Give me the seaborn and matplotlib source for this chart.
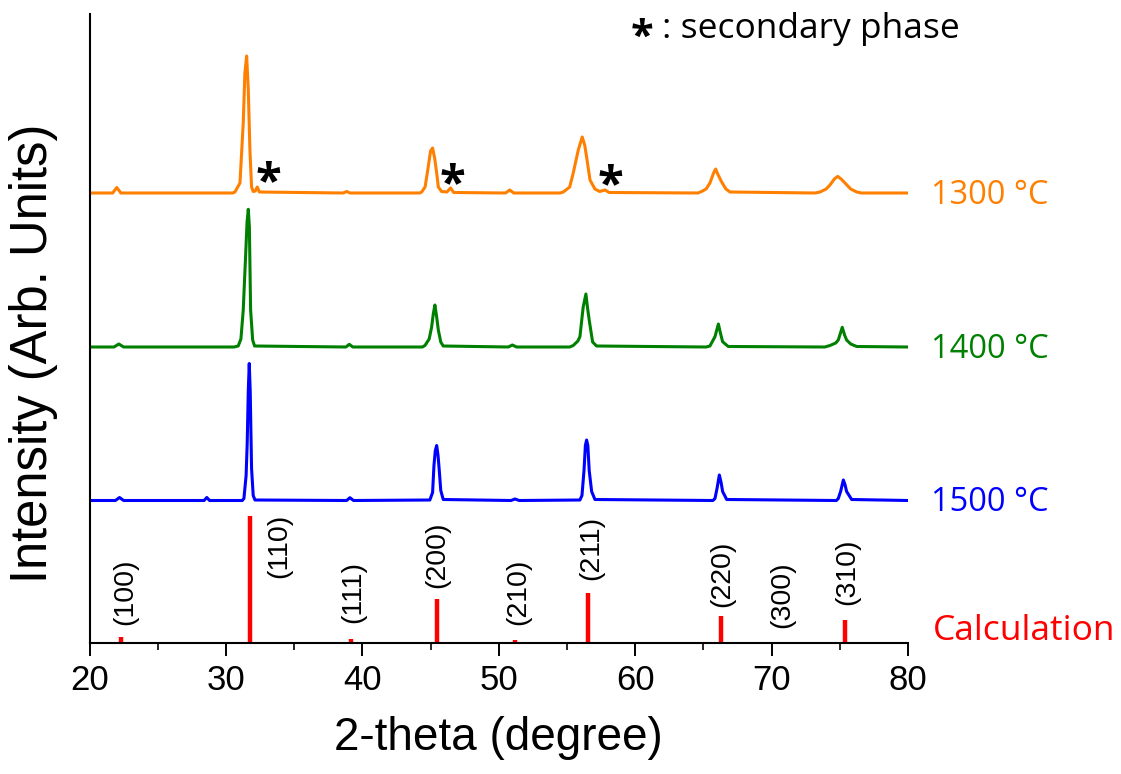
import numpy as np
import pandas as pd
import matplotlib
matplotlib.use("Agg")
import matplotlib.pyplot as plt
from matplotlib.ticker import MultipleLocator
import seaborn as sns

# XRD patterns (2-theta in degree, intensity above each baseline, arb. units)
x_1300 = [20.0, 21.7, 22.0, 22.3, 30.5, 30.66, 31.03, 31.27, 31.39, 31.52, 31.64, 31.76, 31.88, 32.0,
          32.15, 32.3, 32.45, 38.6, 38.85, 39.1, 44.2, 44.35, 44.6, 44.83, 45.0, 45.15, 45.3, 45.45,
          45.57, 45.81, 46.2, 46.47, 46.7, 50.5, 50.8, 51.1, 54.5, 54.73, 55.2, 55.46, 55.83, 56.12,
          56.3, 56.44, 56.69, 57.05, 57.4, 57.79, 58.1, 64.6, 64.87, 65.2, 65.48, 65.75, 65.9, 66.05,
          66.34, 66.65, 66.95, 73.2, 73.55, 74.0, 74.28, 74.6, 74.85, 75.1, 75.38, 75.8, 76.24, 76.6, 80.0]
y_1300 = [0, 0, 5.5, 0, 0, 1, 10, 70, 120, 137, 103, 43, 6, 1.5,
          2, 6, 1, 0, 1.5, 0, 0, 1, 6, 26, 42, 45, 35, 20,
          6, 1.5, 1, 5, 0.5, 0, 3, 0, 0, 1, 6, 20, 43, 56,
          48, 36, 13, 4, 1.5, 3, 0.5, 0, 1.5, 4, 10, 20, 24, 19,
          11, 4, 1, 0, 1, 4, 8, 14, 16.6, 14, 10, 4, 1, 0, 0]

x_1400 = [20.0, 21.8, 22.15, 22.5, 30.6, 30.9, 31.1, 31.27, 31.44, 31.55, 31.64, 31.72, 31.81, 31.96,
          32.1, 38.8, 39.04, 39.3, 44.4, 44.59, 44.9, 45.08, 45.2, 45.32, 45.45, 45.57, 45.75, 45.93,
          50.7, 51.0, 51.3, 55.2, 55.46, 55.8, 55.95, 56.19, 56.39, 56.5, 56.63, 56.88, 57.17,
          65.2, 65.48, 65.85, 66.1, 66.25, 66.41, 66.82, 73.9, 74.28, 74.7, 74.89, 75.18, 75.35,
          75.5, 75.8, 76.24, 80.0]
y_1400 = [0, 0, 3, 0, 0, 1, 8, 37, 90, 125, 137.7, 120, 37, 7,
          1, 0, 2.7, 0, 0, 1.5, 8, 20, 33, 42, 30, 17, 5, 1,
          0, 2, 0, 0, 1.5, 6, 10.3, 40, 53, 40, 27, 5, 1,
          0, 1, 10.3, 23, 14, 5.3, 0.5, 0, 1.5, 4, 7, 19.7, 12,
          7, 3, 0.5, 0]

x_1500 = [20.0, 21.9, 22.2, 22.5, 28.4, 28.6, 28.8, 31.2, 31.32, 31.48, 31.56, 31.64, 31.71, 31.78,
          31.88, 32.0, 32.13, 38.85, 39.09, 39.35, 44.95, 45.15, 45.25, 45.35, 45.45, 45.55, 45.64,
          45.75, 45.93, 50.9, 51.19, 51.5, 55.95, 56.1, 56.25, 56.35, 56.44, 56.53, 56.63, 56.81,
          57.05, 65.7, 65.85, 66.0, 66.17, 66.3, 66.41, 66.71, 74.75, 74.89, 75.06, 75.26, 75.38,
          75.5, 75.87, 80.0]
y_1500 = [0, 0, 3, 0, 0, 3, 0, 0, 2, 25, 57, 110, 137, 110,
          32, 5, 0.5, 0, 2.8, 0, 0.5, 8, 35, 50, 55, 45, 30,
          10, 1, 0, 1.5, 0, 0.5, 5, 30, 55, 60.5, 55, 30, 9,
          1, 0, 2, 12, 25.5, 18, 9, 1, 0, 2, 9, 20.5, 16,
          9, 1, 0]

# calculated reflections
hkl = ["(100)", "(110)", "(111)", "(200)", "(210)", "(211)", "(220)", "(300)", "(310)"]
calc_pos = [22.28, 31.76, 39.16, 45.47, 51.2, 56.53, 66.27, 70.9, 75.35]
calc_int = [6, 127, 4, 44, 3, 50, 27, 1.5, 23]
hkl_x = [22.6, 33.9, 39.3, 45.47, 51.4, 56.8, 66.4, 70.8, 75.57]
hkl_y = [18, 65, 20, 55, 18, 63, 36, 15, 38]

# secondary phase marks on the 1300 C pattern
star_x = [33.1, 46.6, 58.15]
star_y = [18, 16, 15]

temps = ["1300 °C", "1400 °C", "1500 °C"]
offsets = [450, 296, 142.5]
colors = ["#FF7F00", "#008000", "#0000FF"]

sns.set_theme(style="ticks")
arial = ["Liberation Sans", "DejaVu Sans"]
side_font = ["Open Sans", "DejaVu Sans"]
plt.rcParams["font.family"] = arial
plt.rcParams["text.color"] = "black"
plt.rcParams["axes.labelcolor"] = "black"

fig = plt.figure(figsize=(11.21, 7.74), dpi=100)
ax = fig.add_axes([89.5 / 1121, 131 / 774, (908 - 89.5) / 1121, (643 - 14) / 774])

frames = []
for t, xs, ys, off in zip(temps, [x_1300, x_1400, x_1500], [y_1300, y_1400, y_1500], offsets):
    frames.append(pd.DataFrame({"theta": xs, "I": np.array(ys) + off, "T": t}))
df = pd.concat(frames, ignore_index=True)
sns.lineplot(data=df, x="theta", y="I", hue="T", palette=colors, lw=2.2,
             legend=False, ax=ax, sort=False, estimator=None)

ax.vlines(calc_pos, 0, calc_int, colors="#FF0000", lw=3.2)
for lab, lx, ly in zip(hkl, hkl_x, hkl_y):
    ax.text(lx, ly, lab, rotation=90, ha="center", va="bottom", fontsize=20.5,
            color="black", family=arial)

for sx, sy in zip(star_x, star_y):
    ax.text(sx, offsets[0] + sy - 9, "*", ha="center", va="center", fontsize=34,
            family=side_font, fontweight="bold", color="black")

for t, off, c in zip(temps, offsets, colors):
    ax.text(81.65, off - 2, t, ha="left", va="center", fontsize=23.5, color=c,
            family=side_font, clip_on=False)
ax.text(81.8, 12, "Calculation", ha="left", va="center", fontsize=25.5, color="#FF0000",
        family=side_font, clip_on=False)
fig.text(631 / 1121, 1 - 38 / 774, "*", ha="left", va="center",
         fontsize=30, color="black", family=side_font, fontweight="bold")
fig.text(662 / 1121, 1 - 29 / 774, ": secondary phase", ha="left", va="center",
         fontsize=25.5, color="black", family=side_font)

ax.set_xlim(20, 80)
ax.set_ylim(0, 629)
ax.xaxis.set_major_locator(MultipleLocator(10))
ax.xaxis.set_minor_locator(MultipleLocator(5))
ax.set_yticks([])
ax.tick_params(axis="x", which="major", direction="out", length=9, width=1.4,
               labelsize=25, pad=6, colors="black")
ax.tick_params(axis="x", which="minor", direction="out", length=5, width=1.4)
for lbl in ax.get_xticklabels():
    lbl.set_fontfamily(arial)
sns.despine(ax=ax)
for s in ["left", "bottom"]:
    ax.spines[s].set_linewidth(1.5)
    ax.spines[s].set_color("black")

ax.set_xlabel("2-theta (degree)", fontsize=33, labelpad=14, family=arial)
ax.set_ylabel("Intensity (Arb. Units)", fontsize=36.5, family=arial)
ax.yaxis.set_label_coords(-0.038, 0.46)

fig.savefig("out.png", dpi=100)
